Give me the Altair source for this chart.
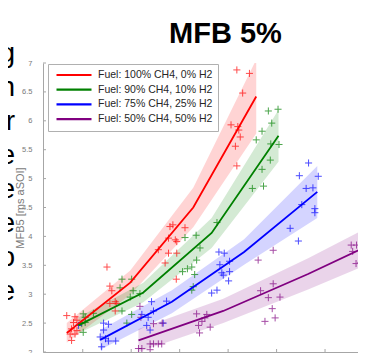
import altair as alt
import pandas as pd

FONT = "Liberation Sans, Arial, Helvetica, sans-serif"
AXC = "#a6a6a6"
LBC = "#7a7a7a"

series_names = ["Fuel: 100% CH4, 0% H2", "Fuel: 90% CH4, 10% H2",
                "Fuel: 75% CH4, 25% H2", "Fuel: 50% CH4, 50% H2"]
series_colors = ["#ff0000", "#008000", "#0000ff", "#800080"]
chart_title = "MFB 5%"

# fitted curves (vertices) and confidence half-widths
red_fit_x = [0.67, 1.98, 3.28, 4.58]
red_fit_y = [2.33, 3.20, 4.50, 6.42]
red_fit_half = [0.17, 0.21, 0.34, 0.64]
green_fit_x = [0.91, 2.25, 3.66, 5.04]
green_fit_y = [2.46, 3.03, 4.06, 5.74]
green_fit_half = [0.14, 0.17, 0.26, 0.45]
blue_fit_x = [1.36, 2.84, 4.33, 5.84]
blue_fit_y = [2.21, 2.87, 3.73, 4.77]
blue_fit_half = [0.17, 0.20, 0.22, 0.45]
purple_fit_x = [2.15, 3.90, 5.65, 7.40]
purple_fit_y = [2.20, 2.71, 3.35, 4.04]
purple_fit_half = [0.20, 0.21, 0.27, 0.34]

# measured points
red_x = [0.67, 0.84, 0.81, 0.88, 0.77, 0.88, 0.74, 0.84, 0.77,
         1.50, 1.56, 1.60, 1.56, 1.67, 1.70, 1.67,
         2.56, 2.77, 2.80, 2.86, 3.11, 2.91, 2.94, 2.77, 2.94, 2.70, 2.93,
         4.18, 4.44, 4.30, 4.06, 4.20, 4.22, 4.25, 4.15, 4.18]
red_y = [2.63, 2.61, 2.51, 2.55, 2.40, 2.37, 2.31, 2.31, 2.20,
         3.47, 3.14, 3.06, 2.84, 2.87, 2.84, 2.71,
         3.77, 3.97, 4.17, 4.20, 4.15, 3.94, 3.91, 3.71, 3.71, 3.54, 3.26,
         6.88, 6.82, 6.48, 5.93, 5.90, 5.84, 5.72, 5.56, 5.22]
green_x = [1.01, 1.05, 0.98, 1.05, 1.01, 1.22,
           1.81, 2.01, 1.77, 1.98, 2.04, 2.18, 1.81, 2.01, 1.91,
           3.11, 3.34, 3.42, 3.35, 3.25, 3.16, 3.06, 3.31, 3.28, 3.25, 3.77,
           4.83, 5.03, 4.90, 4.70, 4.58, 4.88, 5.05, 4.87, 4.70, 4.50, 4.73]
green_y = [2.66, 2.60, 2.49, 2.51, 2.34, 2.67,
           3.26, 3.26, 3.11, 2.95, 3.06, 3.01, 2.71, 2.65, 2.50,
           3.98, 4.02, 3.80, 3.59, 3.47, 3.44, 3.39, 3.34, 3.13, 3.07, 4.24,
           6.17, 6.20, 5.96, 5.82, 5.67, 5.60, 5.59, 5.32, 5.16, 4.83, 4.87]
blue_x = [0.91, 1.43, 1.53, 1.43, 1.36, 1.47, 1.53, 1.68, 1.39,
          2.22, 2.42, 2.46, 2.35, 2.32, 2.39, 2.66, 2.73,
          3.66, 3.77, 3.81, 3.92, 3.83, 4.03, 3.87, 4.03, 3.90, 4.01,
          5.28, 5.45, 5.52, 5.79, 5.79, 5.66, 5.47, 5.86, 5.61, 5.75]
blue_y = [2.46, 2.50, 2.48, 2.38, 2.26, 2.23, 2.19, 2.19, 2.09,
          2.65, 2.87, 2.71, 2.60, 2.46, 2.38, 2.50, 2.88,
          3.02, 3.07, 3.73, 3.71, 3.51, 3.57, 3.37, 3.39, 3.33, 3.23,
          4.14, 3.92, 4.55, 4.48, 4.41, 5.27, 5.05, 5.04, 4.83, 4.84]
purple_x = [2.15, 2.22, 2.39, 2.39, 2.46, 2.56, 2.63, 2.18, 2.20, 2.46, 2.64,
            3.35, 3.56, 3.46, 3.39, 3.52, 3.63, 3.41,
            4.67, 4.93, 4.83, 5.07, 4.91, 4.76, 4.97, 4.62, 4.93,
            6.54, 6.65, 6.57, 6.64, 6.74, 6.79]
purple_y = [2.06, 2.06, 2.14, 2.04, 2.14, 2.14, 2.14, 2.79, 2.60, 2.49, 2.50,
            2.66, 2.65, 2.53, 2.46, 2.59, 2.43, 2.33,
            3.06, 3.18, 2.94, 2.95, 2.75, 2.53, 2.59, 3.59, 3.76,
            3.85, 3.85, 3.74, 3.53, 3.55, 4.22]

ytick_vals = [2, 2.5, 3, 3.5, 4, 4.5, 5, 5.5, 6, 6.5, 7]
xtick_vals = [1, 2, 3, 4, 5, 6]
side_text = "g\nn\nr\ne\ne\ne\no\ne"

fits = [(red_fit_x, red_fit_y, red_fit_half), (green_fit_x, green_fit_y, green_fit_half),
        (blue_fit_x, blue_fit_y, blue_fit_half), (purple_fit_x, purple_fit_y, purple_fit_half)]
pts = [(red_x, red_y), (green_x, green_y), (blue_x, blue_y), (purple_x, purple_y)]

fit_rows, pt_rows = [], []
for sid, (name, (fx, fy, fh)) in enumerate(zip(series_names, fits)):
    for a, b, h in zip(fx, fy, fh):
        fit_rows.append({"series": name, "sid": sid, "x": a, "y": b, "lo": b - h, "hi": b + h})
for sid, (name, (px, py)) in enumerate(zip(series_names, pts)):
    for a, b in zip(px, py):
        pt_rows.append({"series": name, "sid": sid, "x": a, "y": b})
fit_df = pd.DataFrame(fit_rows)
pt_df = pd.DataFrame(pt_rows)

W, H = 315, 289
xscale = alt.Scale(domain=[0.18, 6.68], nice=False, zero=False)
yscale = alt.Scale(domain=[2, 7], nice=False, zero=False)

x_axis = alt.Axis(title=None, labels=False, ticks=False, tickSize=0, grid=False,
                  domainColor=AXC, domainWidth=1)
y_axis = alt.Axis(title="MFB5 [ms aSOI]", values=ytick_vals, format="~g", ticks=False,
                  tickSize=0, grid=False, labelPadding=11, labelFontSize=7.5,
                  labelColor=LBC, domainColor=AXC, domainWidth=1,
                  titleFontSize=11, titleColor=LBC, titleFontWeight="normal",
                  titleX=-23, titleY=H / 2, titleAngle=270, titleBaseline="middle",
                  titleAlign="center")

sid_scale = alt.Scale(domain=[0, 1, 2, 3], range=series_colors)

band = alt.Chart(fit_df).mark_area(opacity=0.17, clip=True).encode(
    x=alt.X("x:Q", scale=xscale, axis=x_axis),
    y=alt.Y("lo:Q", scale=yscale, axis=y_axis),
    y2="hi:Q",
    fill=alt.Fill("sid:N", scale=sid_scale, legend=None),
)

points = alt.Chart(pt_df).mark_point(shape="M-1,0H1M0,-1V1", size=50, strokeWidth=1,
                                     filled=False, opacity=0.7, clip=True).encode(
    x=alt.X("x:Q", scale=xscale, axis=x_axis),
    y=alt.Y("y:Q", scale=yscale, axis=y_axis),
    stroke=alt.Stroke("sid:N", scale=sid_scale, legend=None),
)

lines = alt.Chart(fit_df).mark_line(strokeWidth=1.8, clip=True).encode(
    x=alt.X("x:Q", scale=xscale, axis=x_axis),
    y=alt.Y("y:Q", scale=yscale, axis=y_axis),
    color=alt.Color("series:N", scale=alt.Scale(domain=series_names, range=series_colors),
                    legend=alt.Legend(title=None, orient="none", legendX=5, legendY=1,
                                      symbolType="stroke", symbolSize=1225,
                                      symbolStrokeWidth=2.2, labelFont=FONT,
                                      labelFontSize=10.5, labelColor="#262626",
                                      padding=5, rowPadding=2.7, clipHeight=12,
                                      labelOffset=5, symbolOffset=2,
                                      strokeColor="#b0b0b0", fillColor="white",
                                      labelLimit=0)),
)

ytk = alt.Chart(pd.DataFrame({"v": ytick_vals})).mark_rule(color=AXC, strokeWidth=1).encode(
    y=alt.Y("v:Q", scale=yscale, axis=y_axis), x=alt.value(0), x2=alt.value(3))
xtk = alt.Chart(pd.DataFrame({"v": xtick_vals})).mark_rule(color=AXC, strokeWidth=1).encode(
    x=alt.X("v:Q", scale=xscale, axis=x_axis), y=alt.value(H), y2=alt.value(H - 3))

side = alt.Chart(pd.DataFrame({"t": [side_text]})).mark_text(
    align="right", baseline="alphabetic", fontSize=28, font=FONT, color="black",
    lineBreak="\n", lineHeight=34).encode(x=alt.value(-28), y=alt.value(-1), text="t:N")

title = alt.Chart(pd.DataFrame({"t": [chart_title]})).mark_text(
    align="center", baseline="alphabetic", fontSize=29, fontWeight="bold", font=FONT,
    color="black").encode(x=alt.value(182.5), y=alt.value(-20), text="t:N")

chart = alt.layer(band, points, lines, ytk, xtk, side, title).properties(
    width=W, height=H,
    padding={"left": 35, "top": 55, "right": 0, "bottom": 1},
    autosize=alt.AutoSizeParams(type="none"),
).configure_view(stroke=None).configure_axis(labelFont=FONT, titleFont=FONT)

chart.save("out.html", embed_options={"renderer": "svg", "actions": False})
